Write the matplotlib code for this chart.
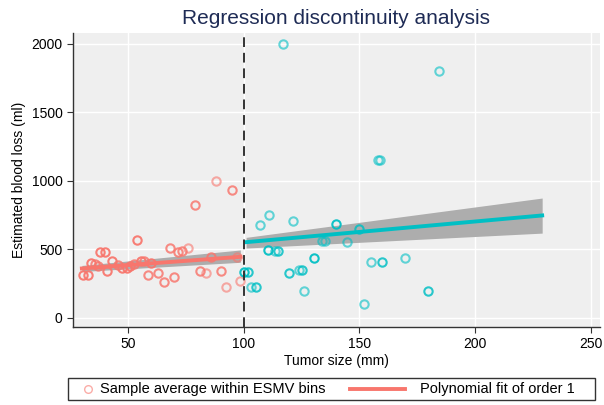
import matplotlib
matplotlib.use("Agg")
import matplotlib.pyplot as plt
from matplotlib.lines import Line2D
from matplotlib.patches import Rectangle
import numpy as np

plt.rcParams['font.family'] = ['Liberation Sans', 'DejaVu Sans']

# ---- data ----
left_x = [30.5, 32.5, 34, 35.5, 37, 38, 40, 41, 43, 45.5, 47.5, 49.5, 51, 52.5, 54, 55.5, 57,
          58.7, 60, 63, 65.5, 68, 70, 71.6, 73.5, 76, 79, 81, 83.8, 86, 87.8, 90.3, 92.5,
          94.9, 97, 98.2]
left_y = [310, 310, 400, 390, 380, 477, 477, 340, 411, 387, 360, 360, 375, 394, 569, 411, 411,
          314, 399, 326, 262, 509, 301, 477, 490, 509, 825, 338, 326, 447, 1000, 340, 228,
          934, 447, 265]
left_n = [3, 3, 3, 2, 2, 3, 3, 3, 3, 2, 3, 3, 3, 2, 3, 3, 2,
          2, 3, 2, 2, 2, 2, 2, 2, 1, 2, 2, 1, 2, 1, 2, 1,
          2, 1, 1]

right_x = [100.3, 101.7, 103.2, 105.4, 107.2, 110.3, 111.1, 113.5, 114.8, 117.1, 119.7, 121.1,
           124.0, 125.2, 126.1, 130.4, 134.0, 135.2, 139.8, 144.8, 149.8, 151.9, 154.8, 158.0,
           159.0, 159.8, 169.9, 179.6, 184.5]
right_y = [331, 331, 228, 228, 679, 496, 752, 484, 484, 2000, 326, 703,
           350, 350, 199, 440, 564, 564, 684, 550, 647, 100, 404, 1150,
           1150, 404, 440, 199, 1800]
right_n = [3, 2, 1, 2, 1, 3, 1, 1, 2, 1, 2, 1,
           1, 2, 1, 3, 1, 1, 3, 1, 2, 1, 1, 1,
           1, 2, 1, 2, 1]

# fitted lines and confidence bands
fit_left_x = [30, 98.5]
fit_left_y = [360, 445]
fit_left_lo = [338, 405]
fit_left_hi = [382, 495]

fit_right_x = [101, 229]
fit_right_y = [552, 747]
fit_right_lo = [509, 618]
fit_right_hi = [587, 874]

cutoff = 100
x_ticks = [50, 100, 150, 200, 250]
y_ticks = [0, 500, 1000, 1500, 2000]

RED = '#F8766D'
TEAL = '#00BFC4'
BAND = '#ADADAD'

W, H = 604, 405
fig = plt.figure(figsize=(W / 100, H / 100), dpi=100)
ax = fig.add_axes([0.121, 0.193, 0.872, 0.726])
ax.set_facecolor('#EFEFEF')
ax.grid(True, color='white', linewidth=1.0)
ax.set_axisbelow(True)

# bands
ax.fill_between(fit_left_x, fit_left_lo, fit_left_hi, color=BAND, lw=0, zorder=2)
ax.fill_between(fit_right_x, fit_right_lo, fit_right_hi, color=BAND, lw=0, zorder=2)

# points
for xs, ys, ns, col in [(left_x, left_y, left_n, RED), (right_x, right_y, right_n, TEAL)]:
    for x, y, n in zip(xs, ys, ns):
        a = 1 - 0.4 ** n
        ax.plot([x], [y], 'o', mfc='none', mec=col, mew=1.5, ms=6, alpha=a, zorder=3)

# fit lines
ax.plot(fit_left_x, fit_left_y, color=RED, lw=2.8, zorder=4)
ax.plot(fit_right_x, fit_right_y, color=TEAL, lw=2.8, zorder=4)

ax.axvline(cutoff, color='#333333', lw=1.4, ls=(0, (5, 3)), zorder=5)

ax.set_xlim(26.2, 253.9)
ax.set_ylim(-66, 2080)
ax.set_xticks(x_ticks)
ax.set_yticks(y_ticks)
for s in ['top', 'right']:
    ax.spines[s].set_visible(False)
for s in ['left', 'bottom']:
    ax.spines[s].set_color('#333333')
    ax.spines[s].set_linewidth(1.0)
ax.tick_params(colors='#333333', labelcolor='black', labelsize=10, length=4, direction='out')
ax.set_xlabel('Tumor size (mm)', fontsize=10, labelpad=2)
ax.set_ylabel('Estimated blood loss (ml)', fontsize=10, labelpad=4)

fig.text(0.557, 1 - 18 / H, 'Regression discontinuity analysis', ha='center', va='center',
         fontsize=15, color='#1E2B55')

# ---- legend (drawn in figure pixel coordinates) ----
def fx(px):
    return px / W

def fy(py):
    return 1 - py / H

ly = 389
fig.add_artist(Rectangle((fx(68), fy(400)), fx(595) - fx(68), fy(378) - fy(400),
                         transform=fig.transFigure, fill=False, edgecolor='#333333', lw=1.0))
fig.add_artist(Line2D([fx(88)], [fy(ly)], marker='o', ls='none', mfc='none', mec=RED,
                      mew=1.0, ms=5.5, alpha=0.6, transform=fig.transFigure))
fig.text(fx(100), fy(ly), 'Sample average within ESMV bins', ha='left', va='center', fontsize=10.5)
fig.add_artist(Line2D([fx(350), fx(405)], [fy(ly), fy(ly)], color=RED, lw=2.8,
                      transform=fig.transFigure))
fig.text(fx(420), fy(ly), 'Polynomial fit of order 1', ha='left', va='center', fontsize=10.5)

fig.savefig('out.png', dpi=100)
